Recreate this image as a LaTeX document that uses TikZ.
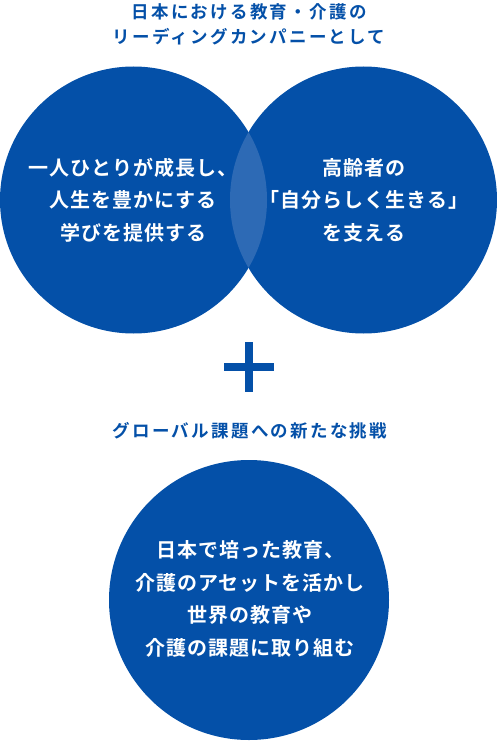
\documentclass[tikz,border=0pt]{standalone}
\usepackage{fontspec}
\setmainfont{Noto Sans CJK JP}[BoldFont={* Bold}]
\newfontfamily\headfont{Noto Sans CJK JP}[BoldFont={* Bold}, LetterSpace=13]
\newfontfamily\circfont{Noto Sans CJK JP}[BoldFont={* Bold}, LetterSpace=5]
\usepackage{tikz}
\usetikzlibrary{positioning}
\definecolor{mainblue}{HTML}{0450A8}
\definecolor{lightblue}{HTML}{2D6AB5}
\tikzset{
  every picture/.style={line join=round, line cap=round},
  headtext/.style={text=mainblue, font=\headfont\bfseries\fontsize{17.5}{25}\selectfont, align=center},
  circtext/.style={text=white, font=\circfont\bfseries\fontsize{20}{32.5}\selectfont, align=center},
}

\begin{document}
\begin{tikzpicture}[x=1pt,y=-1pt]
\useasboundingbox (0,0) rectangle (497,741);
% top title
\node[headtext] (title) at (249,24.5) {日本における教育・介護の\\リーディングカンパニーとして};
% the two circles and their overlap
\fill[mainblue] (133.5,200) circle (133.5);
\fill[mainblue] (363.5,200) circle (133.5);
\begin{scope}
\clip (133.5,200) circle (133.5);
\fill[lightblue] (363.5,200) circle (133.5);
\end{scope}
\node[circtext] (learn) at (133,200) {一人ひとりが成長し、\\人生を豊かにする\\学びを提供する};
\node[circtext] (elder) at (364,200) {高齢者の\\「自分らしく生きる」\\を支える};
% plus sign
\fill[mainblue] (224,363) rectangle (274,371);
\fill[mainblue] (245,342) rectangle (253,392);
\node[headtext] (global) at (250,431) {グローバル課題への新たな挑戦};
% bottom circle
\fill[mainblue] (249,600) circle (140);
\node[circtext] (asset) at (250,599) {日本で培った教育、\\介護のアセットを活かし\\世界の教育や\\介護の課題に取り組む};
\end{tikzpicture}
\end{document}
